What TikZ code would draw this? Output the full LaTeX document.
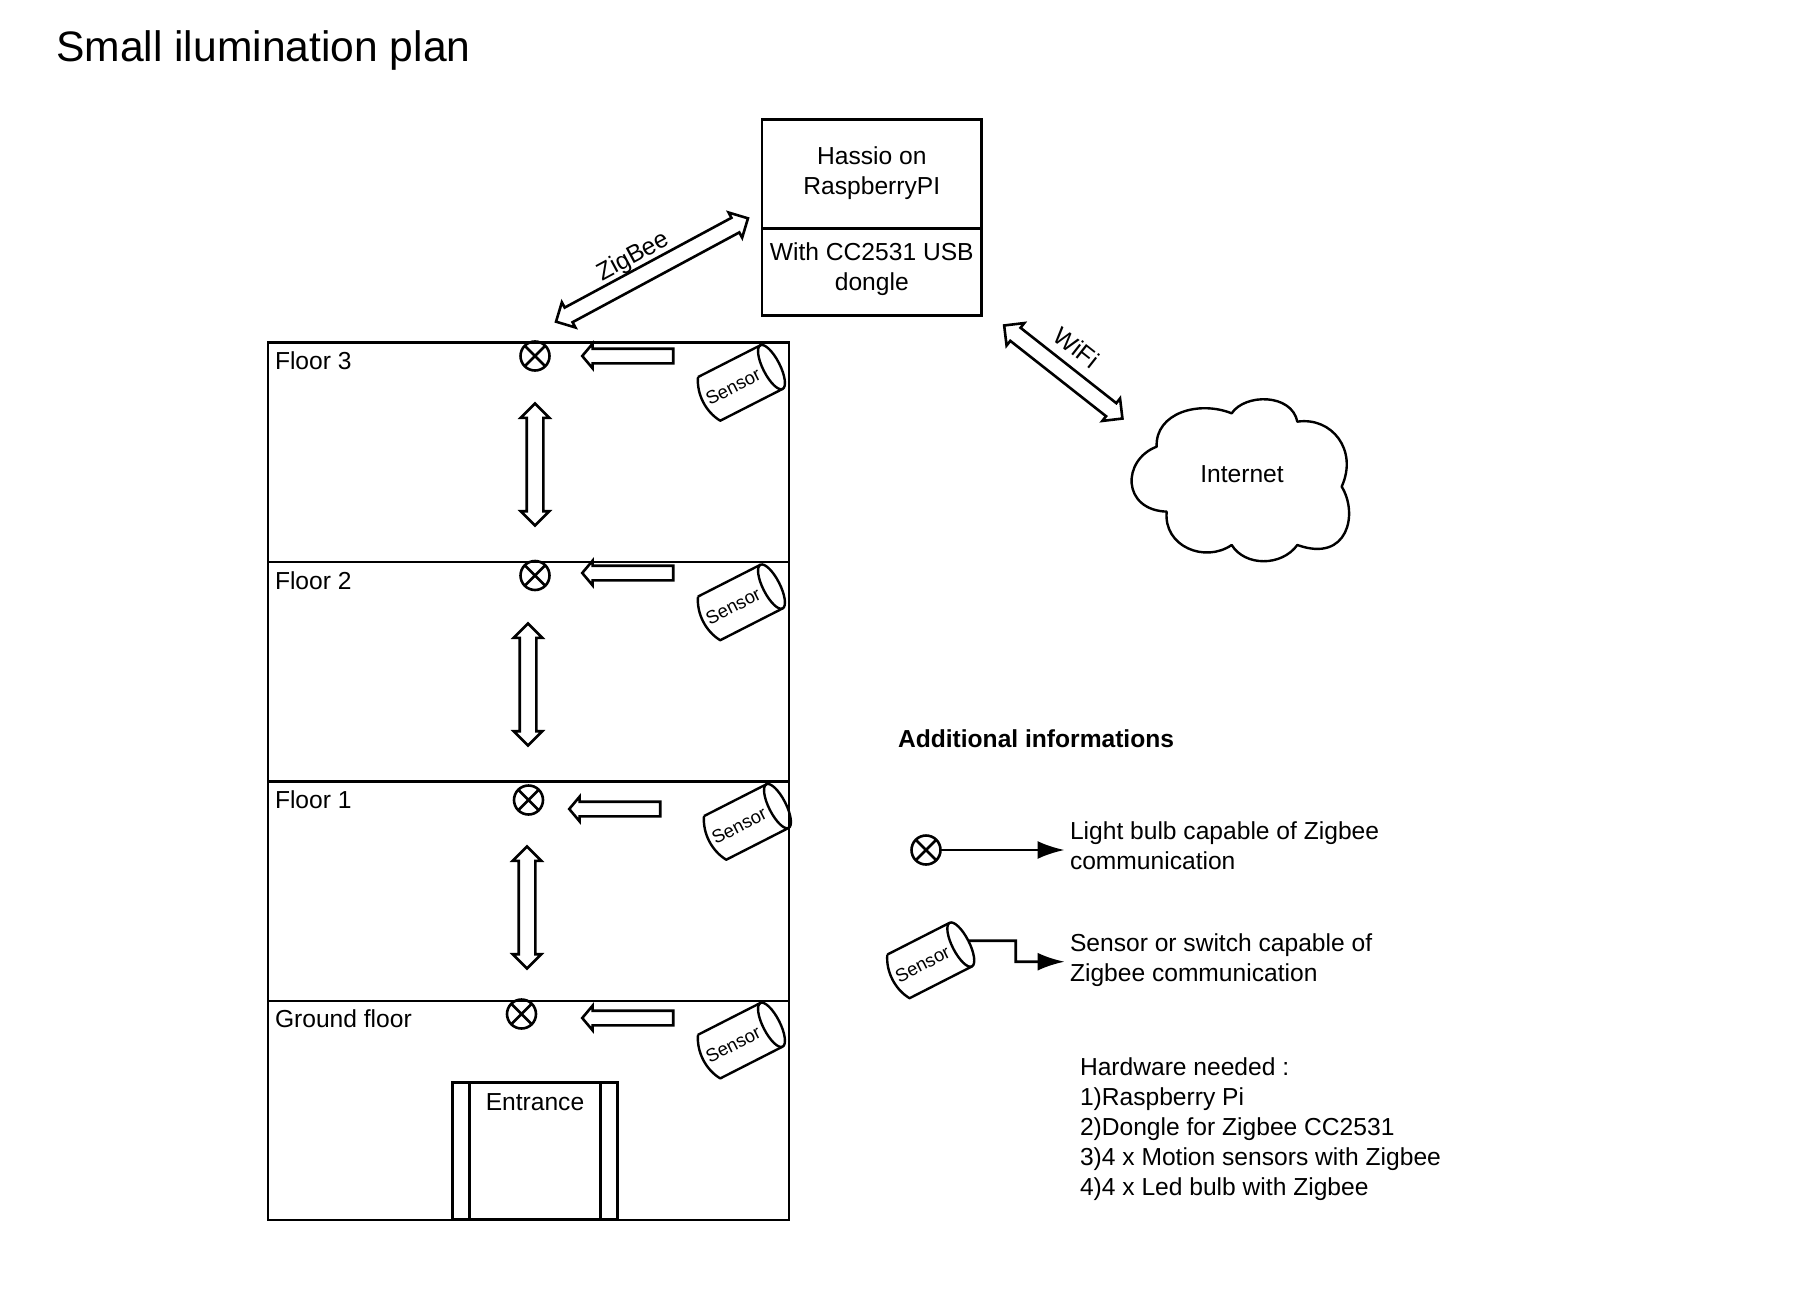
\documentclass[tikz,border=0pt]{standalone}
\usepackage{fontspec}
\setmainfont{Liberation Sans}
\usetikzlibrary{shapes.arrows,arrows.meta}
\newcommand{\bodyfont}{\fontsize{24.6}{30}\selectfont}
\tikzset{
  ln/.style={line width=2.6pt,draw=black},
  txt/.style={font=\bodyfont,inner sep=0pt,outer sep=0pt},
  box/.style={ln,rectangle,anchor=north west,inner sep=0pt,outer sep=0pt},
  floorlabel/.style={txt,anchor=base west},
  bulb/.style={ln,circle,inner sep=0pt,outer sep=0pt,minimum size=29pt,
    path picture={\draw[ln] (path picture bounding box.north west) -- (path picture bounding box.south east)
      (path picture bounding box.north east) -- (path picture bounding box.south west);}},
  arrowone/.style={ln,single arrow,inner xsep=0pt,inner ysep=6pt,outer sep=0pt,minimum width=22pt,
    minimum height=91pt,single arrow head extend=5pt,single arrow tip angle=100,shape border rotate=180},
  arrowtwo/.style={ln,double arrow,inner xsep=0pt,inner ysep=7pt,outer sep=0pt,minimum width=26pt,
    double arrow head extend=6pt,double arrow tip angle=90},
  sensortext/.style={font=\fontsize{18.5}{22}\selectfont,inner sep=0pt,rotate=27},
  link/.style={ln,-{Latex[length=27pt,width=18pt]}}
}
\newcommand{\sensorat}[3]{%
  \begin{scope}[shift={(#2,#3)},rotate=27]
    \draw[line width=2.4pt,line join=round] (-35,-24.5) .. controls (-44,-10) and (-44,10) .. (-35,24.5) -- (35,24.5)
      (35,-24.5) -- (-35,-24.5);
    \draw[line width=2.4pt] (35,0) ellipse [x radius=8.5pt,y radius=24.5pt];
    \node[sensortext] (#1) at (-8,0) {Sensor};
    \coordinate (#1cap) at (43.5,0);
  \end{scope}}
\begin{document}
\begin{tikzpicture}[x=1pt,y=-1pt]
\useasboundingbox (0,0) rectangle (1796,1290);
% title
\node[inner sep=0pt,anchor=base west,font=\fontsize{42.6}{50}\selectfont] (title) at (56,62) {Small ilumination plan};
% Hassio
\node[box,minimum width=219.7pt,minimum height=109pt] (hassio) at (762,119.3) {};
\node[box,minimum width=219.7pt,minimum height=87pt] (dongle) at (762,228.3) {};
\node[txt,align=center] (hassiotext) at (871.8,173) {Hassio on\\RaspberryPI};
\node[txt,align=center] (dongletext) at (871.8,269.5) {With CC2531 USB\\dongle};
% building
\node[box,minimum width=521pt,minimum height=219.5pt] (f3) at (268,342.3) {};
\node[box,minimum width=521pt,minimum height=219.5pt] (f2) at (268,561.8) {};
\node[box,minimum width=521pt,minimum height=219.5pt] (f1) at (268,781.3) {};
\node[box,minimum width=521pt,minimum height=219pt] (f0) at (268,1000.8) {};
\node[floorlabel] (l3) at (275,369) {Floor 3};
\node[floorlabel] (l2) at (275,589) {Floor 2};
\node[floorlabel] (l1) at (275,808) {Floor 1};
\node[floorlabel] (l0) at (275,1027) {Ground floor};
% door
\node[box,minimum width=165pt,minimum height=137pt] (door) at (452.5,1082.5) {};
\coordinate (dl) at (469.6,1082.5);
\coordinate (dlb) at (469.6,1219.5);
\coordinate (dr) at (600.3,1082.5);
\coordinate (drb) at (600.3,1219.5);
\draw[ln] (dl) -- (dlb) (dr) -- (drb);
\node[txt] (entrance) at (535,1102) {Entrance};
% bulbs
\node[bulb] (b3) at (535,356) {};
\node[bulb] (b2) at (535,575.5) {};
\node[bulb] (b1) at (528.5,800) {};
\node[bulb] (b0) at (521.5,1014) {};
% horizontal arrows
\node[arrowone] (h3) at (630.8,356) {};
\node[arrowone] (h2) at (630.8,573) {};
\node[arrowone] (h1) at (617.8,809) {};
\node[arrowone] (h0) at (630.8,1018) {};
% vertical arrows
\node[arrowtwo,minimum height=122pt,rotate=90] (v3) at (535,464.5) {};
\node[arrowtwo,minimum height=122pt,rotate=90] (v2) at (528,684.5) {};
\node[arrowtwo,minimum height=122pt,rotate=90] (v1) at (527,907.5) {};
% sensors
\sensorat{s3}{740.3}{383}
\sensorat{s2}{740.3}{602.5}
\sensorat{s1}{746.3}{822}
\sensorat{s0}{740.3}{1040.7}
% diagonal links
\node[arrowtwo,minimum height=218pt,rotate=28.3] (zig) at (652,270) {};
\node[txt,rotate=28.3] (ziglabel) at (633.5,257) {ZigBee};
\node[arrowtwo,minimum height=150.5pt,rotate=-38.2] (wifi) at (1063.3,372) {};
\node[txt,rotate=-38.2] (wifilabel) at (1076.7,347.3) {WiFi};
% cloud
\begin{scope}[shift={(981.7,300)},x=0.3333pt,y=-0.3333pt]
\draw[line width=2.4pt,line join=round] (750,340) .. controls (790,280) and (930,280) .. (947,365)
  .. controls (1050,350) and (1130,450) .. (1080,560)
  .. controls (1130,640) and (1100,790) .. (947,735)
  .. controls (900,800) and (790,800) .. (750,735)
  .. controls (670,790) and (545,740) .. (555,635)
  .. controls (420,630) and (420,480) .. (525,440)
  .. controls (520,340) and (650,300) .. (750,340) -- cycle;
\end{scope}
\node[txt] (internet) at (1242,474) {Internet};
% legend
\node[txt,anchor=west,font=\bfseries\bodyfont] (addinfo) at (898,738.5) {Additional informations};
\node[bulb] (lb) at (926,850) {};
\coordinate (lbtip) at (1064.5,850);
\draw[link] (lb) -- (lbtip);
\node[txt,anchor=west,align=left] (lbtext) at (1070,846) {Light bulb capable of Zigbee\\communication};
\sensorat{ls}{929.6}{960.5}
\coordinate (lstip) at (1064.5,961.7);
\draw[link] (lscap) -- (1015.7,940.7) -- (1015.7,961.7) -- (lstip);
\node[txt,anchor=west,align=left] (lstext) at (1070,960.5) {Sensor or switch capable of\\Zigbee communication};
\node[txt,anchor=west,align=left] (hw) at (1080,1129) {Hardware needed :\\1)Raspberry Pi\\2)Dongle for Zigbee CC2531\\3)4 x Motion sensors with Zigbee\\4)4 x Led bulb with Zigbee};
\end{tikzpicture}
\end{document}
